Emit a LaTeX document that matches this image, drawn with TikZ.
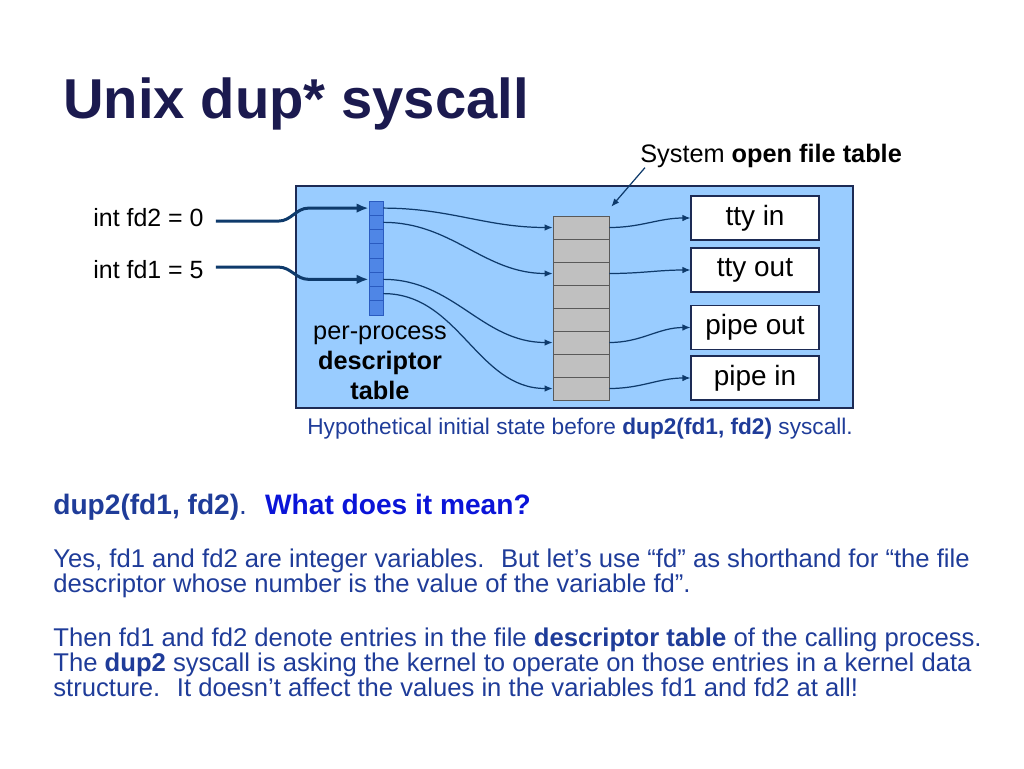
\documentclass[tikz,border=0pt]{standalone}
\usepackage{fontspec}
\setmainfont{Liberation Sans}
\usetikzlibrary{arrows.meta,positioning}

\definecolor{titleblue}{HTML}{1B1A4F}
\definecolor{textblue}{HTML}{1F3C99}
\definecolor{brightblue}{HTML}{0A14D8}
\definecolor{panelblue}{HTML}{99CCFF}
\definecolor{panelline}{HTML}{1D2B55}
\definecolor{slotblue}{HTML}{4F86E6}
\definecolor{slotline}{HTML}{2A5BC0}
\definecolor{entrygray}{HTML}{C0C0C0}
\definecolor{linkblue}{HTML}{0E3A6B}
\newcommand\tightlines{\lineskiplimit=-20pt\relax}

\begin{document}
\begin{tikzpicture}[x=0.02cm,y=-0.02cm,>=Latex,
  slot/.style={draw=slotline,fill=slotblue,line width=0.4pt,minimum width=0.28cm,minimum height=0.285cm,inner sep=0pt},
  entry/.style={draw=black!65,fill=entrygray,line width=0.4pt,minimum width=1.12cm,minimum height=0.46cm,inner sep=0pt},
  filebox/.style={draw=panelline,fill=white,line width=0.6pt,minimum width=2.56cm,minimum height=0.88cm,inner sep=0pt,font=\fontsize{15.9}{18}\selectfont},
  label/.style={inner sep=0pt,anchor=base west,font=\fontsize{14.2}{17}\selectfont},
  link/.style={draw=linkblue,line width=0.7pt,-{Latex[length=1.6mm,width=1.3mm]}},
  fdlink/.style={draw=linkblue,line width=1.7pt,-{Latex[length=2.4mm,width=1.9mm]}},
  body/.style={inner sep=0pt,anchor=north west,align=left,text=textblue,font=\fontsize{14.6}{14.17}\selectfont\tightlines}]
\useasboundingbox (0,0) rectangle (1024,768);

% title
\node[inner sep=0pt,anchor=base west,text=titleblue,font=\fontsize{32}{38}\selectfont\bfseries] (title) at (63,118) {Unix dup* syscall};

% kernel panel
\node[draw=panelline,fill=panelblue,line width=0.8pt,minimum width=11.14cm,minimum height=4.44cm,inner sep=0pt] (panel) at (574.5,297) {};

% per-process descriptor table
\foreach \k in {0,...,7}
  \node[slot] (d\k) at (376,{208.1+14.25*\k}) {};
\node[inner sep=0pt,align=center,font=\fontsize{14.4}{17}\selectfont] (dlabel) at (380,363) {per-process\\\textbf{descriptor}\\\textbf{table}};

% system open file table
\foreach \k in {0,...,7}
  \node[entry] (o\k) at (581,{227.5+23*\k}) {};
\node[label,font=\fontsize{14.4}{17}\selectfont] (sysl) at (640,162) {System \textbf{open file table}};

% file objects
\node[filebox] (ttyin) at (755,218) {tty in};
\node[filebox] (ttyout) at (755,270) {tty out};
\node[filebox] (pipeout) at (755,327.5) {pipe out};
\node[filebox] (pipein) at (755,378) {pipe in};

% variables
\node[label] (fdtwo) at (93,226) {int fd2 = 0};
\node[label] (fdone) at (93,278) {int fd1 = 5};

\draw[fdlink] ([shift={(0.24cm,-0.08cm)}]fdtwo.east) -- +(1.25cm,0) to[out=0,in=180] ([xshift=-1.2cm]d0.west) -- (d0.west);
\draw[fdlink] ([shift={(0.24cm,0.04cm)}]fdone.east) -- +(1.25cm,0) to[out=0,in=180] ([xshift=-1.2cm]d5.west) -- (d5.west);

\draw[link] (d0.east) to[out=0,in=180] (o0.west);
\draw[link] (d1.east) to[out=0,in=180] (o2.west);
\draw[link] (d5.east) to[out=0,in=180] (o5.west);
\draw[link] (d6.east) to[out=0,in=180] (o7.west);

\draw[link] (o0.east) to[out=0,in=180] (ttyin.west);
\draw[link] (o2.east) to[out=0,in=180] (ttyout.west);
\draw[link] (o5.east) to[out=0,in=180] (pipeout.west);
\draw[link] (o7.east) to[out=0,in=180] (pipein.west);

\draw[link] ([xshift=0.1cm]sysl.south west) -- ([shift={(0.04cm,0.18cm)}]o0.north east);

\node[inner sep=0pt,anchor=base west,text=textblue,font=\fontsize{12.9}{15}\selectfont] (caption) at (307,434) {Hypothetical initial state before \textbf{dup2(fd1, fd2)} syscall.};

% explanation
\node[inner sep=0pt,anchor=base west,text=textblue,font=\fontsize{16}{18}\selectfont] (question) at (53,514) {\textbf{dup2(fd1, fd2)}.~ \textcolor{brightblue}{\textbf{What does it mean?}}};
\node[body] (para1) at (53,549) {Yes, fd1 and fd2 are integer variables.~ But let’s use “fd” as shorthand for “the file\\descriptor whose number is the value of the variable fd”.};
\node[body] (para2) at (53,628) {Then fd1 and fd2 denote entries in the file \textbf{descriptor table} of the calling process.\\The \textbf{dup2} syscall is asking the kernel to operate on those entries in a kernel data\\structure.~ It doesn’t affect the values in the variables fd1 and fd2 at all!};
\end{tikzpicture}
\end{document}
